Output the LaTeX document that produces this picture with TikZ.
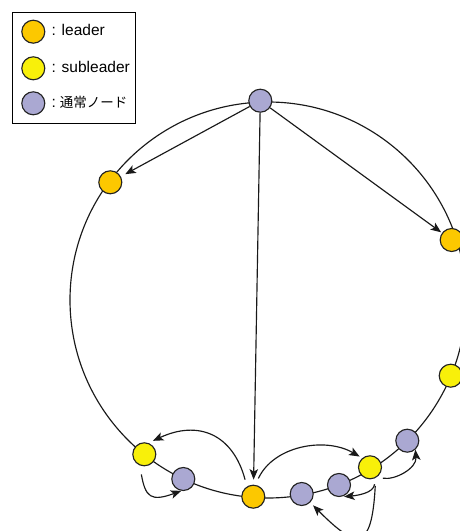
\documentclass[tikz,border=0pt]{standalone}
\usepackage{fontspec}
\newfontfamily\jpfont{Noto Sans CJK JP}
\newfontfamily\legendfont{Liberation Sans}
\usetikzlibrary{arrows.meta}

\definecolor{leaderfill}{RGB}{252,200,0}
\definecolor{subfill}{RGB}{248,240,10}
\definecolor{nodefill}{RGB}{170,168,210}
\definecolor{rim}{RGB}{35,35,35}

\begin{document}
\begin{tikzpicture}[x=1pt,y=1pt,
  peer/.style={circle, draw=rim, line width=1.15pt, minimum size=23pt, inner sep=0pt},
  leader/.style={peer, fill=leaderfill},
  subleader/.style={peer, fill=subfill},
  member/.style={peer, fill=nodefill},
  ring/.style={line width=1.15pt, draw=black!90},
  link/.style={line width=1.15pt, draw=black!90, -{Stealth[length=10.5pt,width=8.5pt,inset=2.5pt]}},
  legendtext/.style={anchor=base west, inner sep=0pt, font=\legendfont\fontsize{15.5}{18}\selectfont}
]
\useasboundingbox (0,0) rectangle (460,531);
\clip (0,0) rectangle (460,531);
\fill[white] (0,0) rectangle (460,531);

% legend
\draw[line width=1pt] (12,518) rectangle (135,407);
\node[leader] (kl) at (33.3,499.3) {};
\node[subleader] (ks) at (33.3,462.7) {};
\node[member] (kn) at (33.3,427.7) {};
\node[legendtext] (tl) at (51.5,495) {: leader};
\node[legendtext] (ts) at (51.5,458.3) {: subleader};
\node[legendtext] (tn) at (51.5,423.2) {:\hspace{0.25em}{\jpfont\fontsize{13.5}{16}\selectfont 通常ノード}};

% overlay ring
\draw[ring] (268,231) circle[radius=198];

% peers on the ring
\node[member]    (top)     at (260.3,430.3) {};
\node[leader]    (leaderL) at (110.3,348.7) {};
\node[leader]    (leaderR) at (451.7,291) {};
\node[subleader] (subR)    at (450.7,155.3) {};
\node[member]    (n1)      at (407.3,90.3) {};
\node[subleader] (sub2)    at (370,63.7) {};
\node[member]    (n2)      at (339,46) {};
\node[member]    (n3)      at (301.7,37) {};
\node[leader]    (leaderB) at (253.3,34.3) {};
\node[member]    (n4)      at (183.3,52) {};
\node[subleader] (sub3)    at (144.3,76.7) {};

% messages from the top node to the leaders
\draw[link, shorten >=5pt] (top) -- (leaderL);
\draw[link, shorten >=1pt] (top) -- (leaderR);
\draw[link, shorten >=5pt] (top) -- (leaderB);

% leader forwards to its subleaders
\draw[link, shorten <=7pt, shorten >=5pt]
  (leaderB.122) to[out=105, in=25, looseness=1.3] (sub3.70);
\draw[link, shorten <=7pt, shorten >=3pt]
  (leaderB.80) to[out=65, in=150] (sub2.130);

% subleaders forward to ordinary nodes
\draw[link, shorten <=9pt]
  (sub3.-112) to[out=-80, in=200, looseness=1.7] (n4.-100);
\draw[link, shorten <=6pt]
  (sub2.-55) to[out=-10, in=-85] (n1.-48);
\draw[link, shorten <=6pt, shorten >=3pt]
  (sub2.-65) to[out=-95, in=5] (n2.-80);
\draw[link, shorten <=8pt, shorten >=4pt]
  (sub2.-62) .. controls +(-93:75) and +(-45:65) .. (n3.-45);
\end{tikzpicture}
\end{document}
